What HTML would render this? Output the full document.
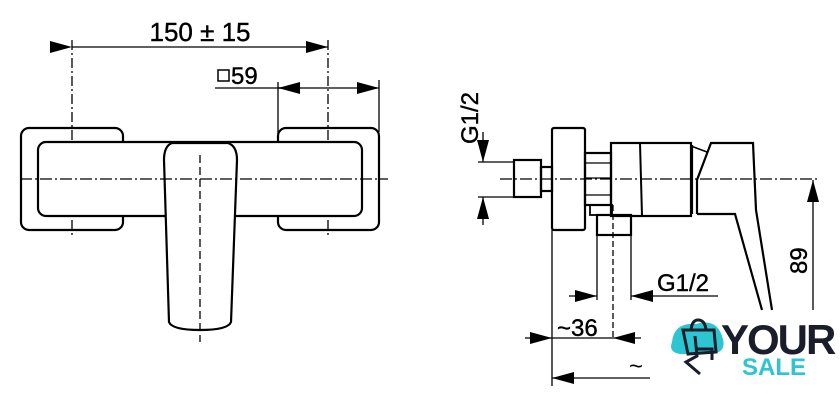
<!DOCTYPE html>
<html><head><meta charset="utf-8"><style>
html,body{margin:0;padding:0;background:#fff;width:840px;height:406px;overflow:hidden}
text{font-family:"Liberation Sans",sans-serif}
</style></head><body>
<svg width="840" height="406" viewBox="0 0 840 406" xmlns="http://www.w3.org/2000/svg">
<defs>
<marker id="a" viewBox="0 0 22 12" refX="22" refY="6" markerWidth="22" markerHeight="12" markerUnits="userSpaceOnUse" orient="auto"><path d="M0,0L22,6L0,12z" fill="#000"/></marker>
</defs>
<g fill="none" stroke="#000" stroke-width="1.3">
<line x1="72" y1="40" x2="72" y2="235" stroke-dasharray="10,3,2,3"/>
<line x1="328" y1="40" x2="328" y2="238" stroke-dasharray="10,3,2,3"/>
<line x1="278" y1="82" x2="278" y2="142"/>
<line x1="379" y1="80" x2="379" y2="132"/>
<line x1="72" y1="47" x2="328" y2="47" marker-start="url(#a)" marker-end="url(#a)"/>
<line x1="215" y1="88" x2="300" y2="88"/>
<line x1="300" y1="88" x2="278" y2="88" marker-end="url(#a)"/>
<line x1="278" y1="88" x2="379" y2="88" marker-end="url(#a)"/>
<rect x="21" y="128" width="102" height="102" rx="8" stroke-width="2.2"/>
<rect x="278" y="128" width="101" height="102" rx="8" stroke-width="2.2"/>
<rect x="38" y="142" width="324" height="74" rx="8" fill="#fff" stroke-width="2.2"/>
<path d="M172,143 L228,143 Q237,146 237,160 L231,322 Q228,330 200,330 Q172,330 169,322 L164,160 Q164,146 172,143Z" fill="#fff" stroke-width="2.2"/>
<line x1="20" y1="179" x2="388" y2="179" stroke-dasharray="12,3,2,3"/>
<line x1="200" y1="155" x2="200" y2="342" stroke-dasharray="8,4"/>
<line x1="500" y1="179" x2="820" y2="179" stroke-dasharray="12,3,2,3"/>
<line x1="478" y1="162" x2="515" y2="162"/>
<line x1="478" y1="197" x2="515" y2="197"/>
<line x1="483" y1="132" x2="483" y2="162" marker-end="url(#a)"/>
<line x1="483" y1="225" x2="483" y2="197" marker-end="url(#a)"/>
<rect x="514" y="160" width="27" height="37" stroke-width="2.2"/>
<rect x="541" y="167" width="11" height="24" stroke-width="2.2"/>
<rect x="552" y="128" width="33" height="102" rx="2" stroke-width="2.2"/>
<rect x="585" y="153" width="26" height="52" stroke-width="2.2"/>
<line x1="585" y1="163" x2="611" y2="163"/><line x1="585" y1="178" x2="611" y2="178"/><line x1="585" y1="195" x2="611" y2="195"/>
<rect x="611" y="143" width="80" height="73" stroke-width="2.2"/>
<line x1="640" y1="143" x2="642" y2="216" stroke-width="2"/>
<rect x="590" y="205" width="22" height="10" stroke-width="1.8"/>
<rect x="597" y="215" width="34" height="20" stroke-width="2.2"/>
<line x1="613" y1="205" x2="613" y2="340" stroke-dasharray="6,3"/>
<line x1="692" y1="145" x2="692" y2="214" stroke-width="2.2"/>
<line x1="691" y1="146" x2="707" y2="152" stroke-width="1.5"/>
<path d="M697,214 L697,180 L711,143 L753,143 L756,210 L772,310" stroke-width="2.2"/>
<path d="M697,214 L735,214 L762,310" stroke-width="2.2"/>
<line x1="813" y1="310" x2="813" y2="180" marker-end="url(#a)"/>
<line x1="552" y1="230" x2="552" y2="386"/>
<line x1="597" y1="235" x2="597" y2="300"/>
<line x1="631" y1="235" x2="631" y2="300"/>
<line x1="569" y1="296" x2="597" y2="296" marker-end="url(#a)"/>
<line x1="718" y1="296" x2="631" y2="296" marker-end="url(#a)"/>
<line x1="525" y1="338" x2="552" y2="338" marker-end="url(#a)"/>
<line x1="641" y1="338" x2="613" y2="338" marker-end="url(#a)"/>
<line x1="552" y1="338" x2="613" y2="338"/>
<line x1="650" y1="378" x2="552" y2="378" marker-end="url(#a)"/>
</g>
<text x="200" y="41" font-size="26" text-anchor="middle" stroke="#000" stroke-width="0.4">150 ± 15</text>
<rect x="218" y="70" width="11" height="11" fill="none" stroke="#000" stroke-width="1.5"/>
<text x="231" y="84" font-size="24" stroke="#000" stroke-width="0.4">59</text>
<text transform="translate(478,144) rotate(-90)" font-size="24" stroke="#000" stroke-width="0.4">G1/2</text>
<text transform="translate(807,274) rotate(-90)" font-size="24" stroke="#000" stroke-width="0.4">89</text>
<text x="657" y="291" font-size="24" stroke="#000" stroke-width="0.4">G1/2</text>
<text x="557" y="336" font-size="24" stroke="#000" stroke-width="0.4">~36</text>
<text x="629" y="374" font-size="24">~</text>
<rect x="656" y="314" width="184" height="72" fill="#fff"/>
<path d="M672,342 Q674,322 696,324 Q716,318 722,336 Q728,352 712,354 L680,354 Q668,352 672,342Z" fill="#2cc5d2"/>
<path d="M683,330 L714,330 L716,352 L688,354 Z M691,330 Q692,320 698,320 Q705,320 706,330" fill="none" stroke="#1a1d2a" stroke-width="3"/>
<path d="M695,336 L697,356 L686,362 L700,374 M697,349 L712,349 L712,360" fill="none" stroke="#1a1d2a" stroke-width="3"/>
<text x="721" y="354" font-size="42" font-weight="bold" fill="#1a1d2a" letter-spacing="-2">YOUR</text>
<text x="742" y="375" font-size="24" font-weight="bold" fill="#2cc5d2">SALE</text>
</svg>
</body></html>
